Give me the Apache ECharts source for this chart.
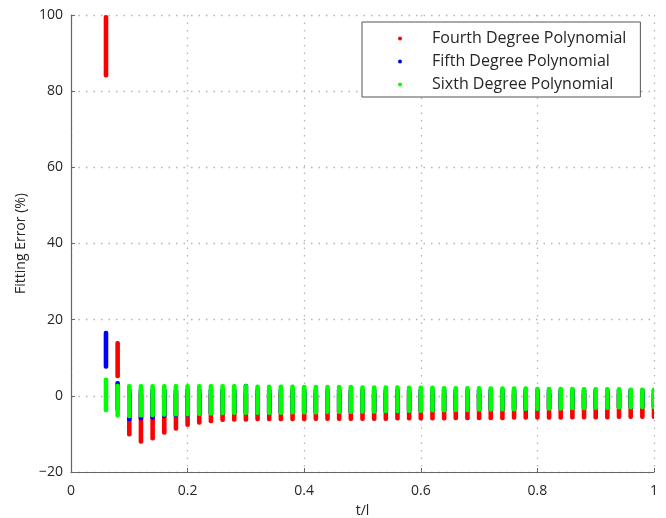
<!DOCTYPE html>
<html>
<head>
<meta charset="utf-8">
<script src="https://cdn.jsdelivr.net/npm/echarts@6/dist/echarts.min.js"></script>
<style>html,body{margin:0;padding:0;background:#fff;}#c{width:666px;height:518px;}</style>
</head>
<body>
<div id="c"></div>
<script>
var tValues = [0.06,0.08,0.10,0.12,0.14,0.16,0.18,0.20,0.22,0.24,0.26,0.28,0.30,0.32,0.34,0.36,0.38,0.40,0.42,0.44,0.46,0.48,0.50,0.52,0.54,0.56,0.58,0.60,0.62,0.64,0.66,0.68,0.70,0.72,0.74,0.76,0.78,0.80,0.82,0.84,0.86,0.88,0.90,0.92,0.94,0.96,0.98,1.00];
var seriesNames = ['Fourth Degree Polynomial','Fifth Degree Polynomial','Sixth Degree Polynomial'];
var xTicks = [0,0.2,0.4,0.6,0.8,1];
var yTicks = [-20,0,20,40,60,80,100];

var fourthLow = [83.6,4.6,-10.7,-12.6,-11.7,-10.2,-9.2,-8.2,-7.6,-7.2,-6.9,-6.8,-6.8,-6.7,-6.7,-6.7,-6.7,-6.7,-6.6,-6.6,-6.6,-6.6,-6.6,-6.6,-6.6,-6.5,-6.5,-6.5,-6.5,-6.5,-6.4,-6.4,-6.4,-6.4,-6.4,-6.3,-6.3,-6.3,-6.3,-6.3,-6.2,-6.2,-6.2,-6.2,-6.1,-6.1,-6.1,-6.1];
var fourthHigh = [100,14.4,1.0,1.0,1.0,1.0,1.0,1.0,1.0,1.0,1.0,1.0,1.0,1.0,1.0,1.0,1.0,1.0,1.0,1.0,1.0,1.0,1.0,1.0,1.0,1.0,1.0,1.0,1.0,1.0,1.0,1.0,1.0,1.0,1.0,1.0,1.0,1.0,1.0,1.0,1.0,1.0,1.0,1.0,1.0,1.0,1.0,1.0];
var fifthLow = [7.1,-4.0,-6.7,-6.5,-6.3,-5.8,-5.6,-5.5,-5.2,-5.1,-5.0,-4.9,-4.9,-4.9,-4.9,-4.9,-4.8,-4.8,-4.8,-4.7,-4.7,-4.7,-4.6,-4.6,-4.5,-4.5,-4.4,-4.4,-4.3,-4.3,-4.2,-4.2,-4.1,-4.1,-4.0,-4.0,-3.9,-3.9,-3.8,-3.8,-3.7,-3.7,-3.6,-3.6,-3.5,-3.5,-3.4,-3.4];
var fifthHigh = [17.1,3.9,2.0,2.0,2.0,2.0,2.0,2.0,2.0,2.0,2.0,2.0,3.2,2.0,2.0,2.0,2.0,2.0,2.0,2.0,2.0,2.0,2.0,2.0,2.0,2.0,2.0,2.0,2.0,2.0,2.0,2.0,2.0,2.0,2.0,2.0,2.0,2.0,2.0,2.0,2.0,2.0,2.0,2.0,2.0,2.0,2.0,2.0];
var sixthLow = [-4.3,-5.7,-5.9,-5.7,-5.6,-5.5,-5.4,-5.4,-5.3,-5.2,-5.1,-5.0,-5.0,-5.0,-5.0,-5.0,-4.9,-4.9,-4.9,-4.8,-4.8,-4.8,-4.7,-4.7,-4.6,-4.6,-4.5,-4.5,-4.4,-4.4,-4.3,-4.3,-4.2,-4.2,-4.1,-4.1,-4.0,-4.0,-3.9,-3.9,-3.8,-3.8,-3.7,-3.7,-3.6,-3.6,-3.5,-3.5];
var sixthHigh = [4.8,3.2,3.1,3.1,3.1,3.1,3.1,3.1,3.1,3.1,3.1,3.1,3.1,3.0,3.0,3.0,3.0,2.9,2.9,2.9,2.9,2.9,2.8,2.8,2.8,2.8,2.7,2.7,2.7,2.6,2.6,2.6,2.6,2.5,2.5,2.5,2.5,2.4,2.4,2.4,2.4,2.3,2.3,2.3,2.3,2.2,2.2,2.2];

var colors = ['#ff0000','#0000ff','#00ff00'];
var FONT = '"Open Sans", sans-serif';

function build(lo, hi){
  return tValues.map(function(t,i){ return [t, lo[i], hi[i]]; });
}
function makeSeries(name, color, lo, hi){
  return {
    name: name,
    type: 'custom',
    clip: true,
    itemStyle: {color: color},
    encode: {x: 0, y: [1, 2]},
    data: build(lo, hi),
    renderItem: function(params, api){
      var x = api.value(0), l = api.value(1), h = api.value(2);
      var p1 = api.coord([x, h]);
      var p2 = api.coord([x, l]);
      var w = 4.6;
      return {
        type: 'rect',
        shape: {x: p1[0] - w/2, y: p1[1], width: w, height: p2[1] - p1[1], r: 2},
        style: {fill: color}
      };
    }
  };
}

var chart = echarts.init(document.getElementById('c'), null, {renderer: 'canvas'});
chart.setOption({
  animation: false,
  backgroundColor: '#ffffff',
  grid: {left: 71, right: 12, top: 15, bottom: 46, containLabel: false, outerBoundsMode: 'none'},
  legend: {
    show: true,
    left: 362, top: 22,
    orient: 'vertical',
    data: seriesNames.map(function(n,i){ return {name: n, icon: 'circle', itemStyle: {color: colors[i]}}; }),
    itemWidth: 4, itemHeight: 4,
    itemGap: 6,
    padding: [8, 14, 4, 36],
    borderColor: '#555555', borderWidth: 1,
    backgroundColor: '#ffffff',
    selectedMode: false,
    textStyle: {fontFamily: FONT, fontSize: 16, color: '#262626', lineHeight: 17, padding: [0,0,0,25]}
  },
  xAxis: {
    type: 'value', min: 0, max: 1, interval: 0.2,
    name: 't/l', nameLocation: 'middle', nameGap: 32,
    nameTextStyle: {fontFamily: FONT, fontSize: 14, color: '#262626'},
    axisLine: {show: true, onZero: false, lineStyle: {color: '#666666', width: 1.2}},
    axisTick: {show: true, inside: true, length: 4, lineStyle: {color: '#666666'}},
    axisLabel: {fontFamily: FONT, fontSize: 14, color: '#262626', margin: 12,
      formatter: function(v){ return String(Math.round(v*10)/10); }},
    splitLine: {show: true, lineStyle: {color: '#b5b5b5', type: [1.5,6], width: 1.3}}
  },
  yAxis: {
    type: 'value', min: -20, max: 100, interval: 20,
    name: 'Fitting Error (%)', nameLocation: 'middle', nameGap: 42, nameRotate: 90,
    nameTextStyle: {fontFamily: FONT, fontSize: 14, color: '#262626'},
    axisLine: {show: true, onZero: false, lineStyle: {color: '#666666', width: 1.2}},
    axisTick: {show: true, inside: true, length: 4, lineStyle: {color: '#666666'}},
    axisLabel: {fontFamily: FONT, fontSize: 14, color: '#262626', margin: 8,
      formatter: function(v){ return v < 0 ? '\u2212' + Math.abs(v) : String(v); }},
    splitLine: {show: true, lineStyle: {color: '#b5b5b5', type: [1.5,6], width: 1.3}}
  },
  series: [
    makeSeries(seriesNames[0], colors[0], fourthLow, fourthHigh),
    makeSeries(seriesNames[1], colors[1], fifthLow, fifthHigh),
    makeSeries(seriesNames[2], colors[2], sixthLow, sixthHigh)
  ]
});
</script>
</body>
</html>
